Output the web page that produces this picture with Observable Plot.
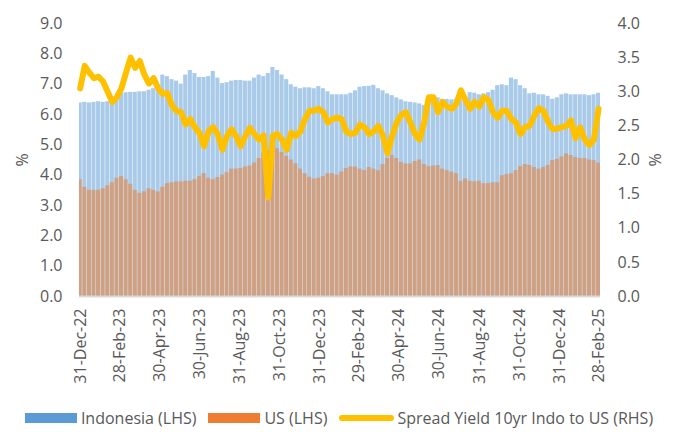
<!DOCTYPE html>
<html><head><meta charset="utf-8">
<script src="https://cdn.jsdelivr.net/npm/d3@7"></script>
<script src="https://cdn.jsdelivr.net/npm/@observablehq/plot@0.6"></script>
<style>
html,body{margin:0;background:#fff;font-family:"Open Sans",sans-serif;}
#chart svg{display:block;}
#legend{display:flex;justify-content:center;align-items:center;height:22px;margin-top:3px;font-size:16px;line-height:22px;color:#595959;font-family:"Open Sans",sans-serif;}
.item{display:flex;align-items:center;margin:0 6px;}
.sw{width:52px;height:10px;margin-right:4px;}
.ln{width:55px;height:6px;border-radius:3px;margin-right:3px;background:#ffc000;}
</style></head><body><div id="chart"></div><div id="legend"></div>
<script>
const startDate = "2022-12-30"; // weekly observations
const seriesNames = ["Indonesia (LHS)", "US (LHS)", "Spread Yield 10yr Indo to US (RHS)"];
const indonesia = [
 6.38,6.4,6.38,6.4,6.42,6.4,6.42,6.45,6.6,6.7,6.72,6.73,6.73,6.75,6.75,6.8,6.85,6.9,7.3,7.25,7.15,7.1,7.0,7.3,7.45,7.35,7.22,7.22,7.25,
 7.42,7.2,7.02,7.05,7.1,7.12,7.12,7.1,7.1,7.2,7.3,7.25,7.35,7.55,7.45,7.3,7.15,6.98,6.9,6.85,6.88,6.88,6.85,6.92,6.85,6.75,6.65,6.65,
 6.65,6.65,6.7,6.78,6.9,6.92,6.93,6.96,6.85,6.78,6.68,6.62,6.55,6.48,6.42,6.4,6.38,6.35,6.3,6.5,6.55,6.55,6.5,6.5,6.48,6.5,6.48,6.55,
 6.72,6.7,6.65,6.68,6.72,6.8,6.95,6.98,6.95,7.2,7.15,6.95,6.85,6.68,6.7,6.65,6.65,6.6,6.5,6.55,6.65,6.68,6.65,6.65,6.65,6.65,6.62,6.65,6.7
];
const us = [
 3.85,3.6,3.5,3.5,3.5,3.55,3.65,3.75,3.9,3.95,3.85,3.7,3.5,3.4,3.45,3.55,3.5,3.45,3.6,3.72,3.75,3.78,3.78,3.8,3.8,3.85,3.95,4.05,3.9,
 3.85,3.92,4.0,4.08,4.2,4.2,4.22,4.27,4.3,4.4,4.55,4.75,4.8,4.8,4.87,4.75,4.62,4.5,4.38,4.2,4.05,3.93,3.87,3.9,3.95,4.05,4.05,4.0,
 4.1,4.22,4.27,4.27,4.2,4.15,4.25,4.2,4.15,4.35,4.55,4.65,4.55,4.42,4.37,4.37,4.45,4.5,4.35,4.28,4.3,4.32,4.2,4.15,4.1,4.05,3.8,3.88,
 3.8,3.78,3.8,3.72,3.72,3.75,3.75,3.98,4.02,4.05,4.15,4.28,4.35,4.32,4.25,4.2,4.25,4.32,4.48,4.52,4.6,4.7,4.65,4.58,4.55,4.55,4.5,4.48,4.4
];
const spread = [
 3.05,3.38,3.28,3.2,3.22,3.15,3.0,2.85,2.92,3.05,3.28,3.5,3.35,3.45,3.25,3.12,3.2,3.05,2.97,2.98,2.8,2.72,2.7,2.52,2.6,2.48,2.4,2.2,2.42,
 2.48,2.38,2.15,2.35,2.45,2.35,2.2,2.35,2.47,2.38,2.3,2.36,1.45,2.35,2.38,2.3,2.15,2.4,2.35,2.42,2.6,2.72,2.72,2.75,2.7,2.55,2.6,2.62,
 2.6,2.42,2.38,2.4,2.52,2.48,2.38,2.42,2.5,2.36,2.1,2.35,2.55,2.66,2.7,2.55,2.38,2.3,2.55,2.92,2.92,2.7,2.85,2.78,2.75,2.82,3.02,2.88,
 2.75,2.85,2.78,2.92,2.88,2.7,2.62,2.72,2.72,2.6,2.55,2.38,2.48,2.5,2.65,2.76,2.72,2.56,2.45,2.46,2.48,2.5,2.58,2.32,2.48,2.3,2.22,2.3,2.75
];
const tickDates = ["2022-12-31","2023-02-28","2023-04-30","2023-06-30","2023-08-31","2023-10-31","2023-12-31",
 "2024-02-29","2024-04-30","2024-06-30","2024-08-31","2024-10-31","2024-12-31","2025-02-28"];
const leftTicks = [0,1,2,3,4,5,6,7,8,9];
const rightTicks = [0,0.5,1,1.5,2,2.5,3,3.5,4];
const leftMax = 9, rightMax = 4;
const ratio = leftMax / rightMax;

const t0 = new Date(startDate);
const data = indonesia.map((v, i) => ({
  date: d3.utcDay.offset(t0, 7 * i),
  indonesia: v, us: us[i], spread: spread[i]
}));

const chart = Plot.plot({
  width: 678, height: 404,
  marginLeft: 79, marginRight: 78, marginTop: 23, marginBottom: 108,
  style: {fontFamily: "Open Sans", fontSize: "16px", color: "#595959", background: "#fff"},
  x: {type: "utc", domain: [new Date("2022-12-29"), new Date("2025-03-03")]},
  y: {domain: [0, leftMax]},
  marks: [
    Plot.rectY(data, {x1: d => d3.utcHour.offset(d.date, -72), x2: d => d3.utcHour.offset(d.date, 78), y: "indonesia", fill: "#5b9bd5", fillOpacity: 0.52, clip: true}),
    Plot.rectY(data, {x1: d => d3.utcHour.offset(d.date, -72), x2: d => d3.utcHour.offset(d.date, 78), y: "us", fill: "#ed7d31", fillOpacity: 0.55, clip: true}),
    Plot.ruleY([0], {stroke: "#d9d9d9", strokeWidth: 2}),
    Plot.line(data, {x: "date", y: d => d.spread * ratio, stroke: "#ffc000", strokeWidth: 6, strokeLinejoin: "round", strokeLinecap: "round"}),
    Plot.axisY(leftTicks, {anchor: "left", tickSize: 0, tickPadding: 17, tickFormat: d => d.toFixed(1), label: "%", labelAnchor: "center", labelOffset: 63, labelArrow: "none", fontSize: 16}),
    Plot.axisY(rightTicks.map(v => v * ratio), {anchor: "right", tickSize: 0, tickPadding: 17, tickFormat: d => (d / ratio).toFixed(1), label: "%", labelAnchor: "center", labelOffset: 60, labelArrow: "none", fontSize: 16}),
    Plot.axisX(tickDates.map(s => new Date(s)), {tickSize: 0, tickPadding: 12, tickRotate: -90, tickFormat: d3.utcFormat("%d-%b-%y"), label: null, fontSize: 16})
  ]
});
document.getElementById("chart").append(chart);

const colors = ["#5b9bd5", "#ed7d31"];
const legend = document.getElementById("legend");
seriesNames.forEach((name, i) => {
  const item = document.createElement("div");
  item.className = "item";
  const sw = document.createElement("div");
  if (i < 2) { sw.className = "sw"; sw.style.background = colors[i]; }
  else sw.className = "ln";
  const tx = document.createElement("span");
  tx.textContent = name;
  item.append(sw, tx);
  legend.append(item);
});
</script></body></html>
